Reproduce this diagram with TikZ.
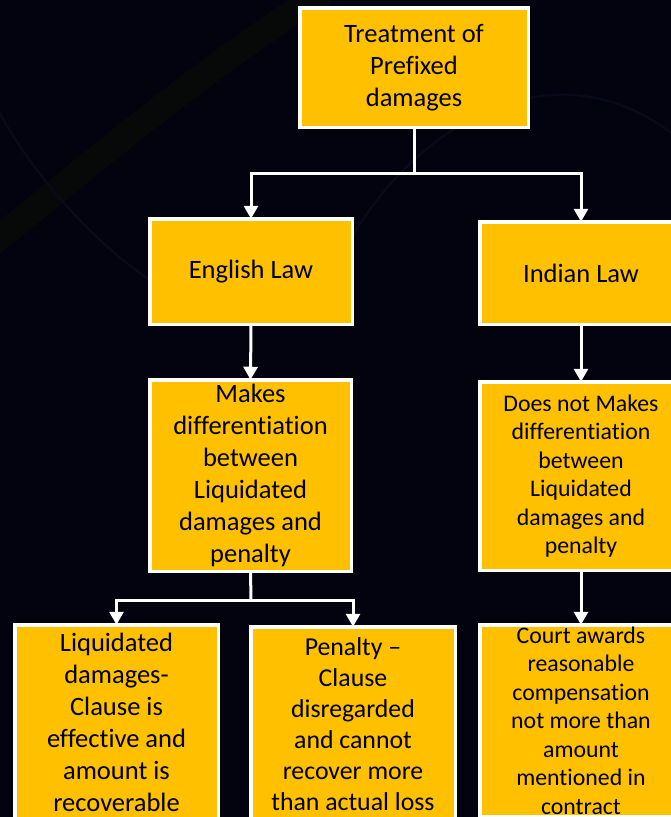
\documentclass[tikz,border=0pt]{standalone}
\usepackage{fontspec}
\setmainfont{Carlito}[Ligatures={TeX,NoCommon}]
\usetikzlibrary{arrows.meta,calc}

\definecolor{bgnavy}{RGB}{3,3,15}
\definecolor{boxgold}{RGB}{255,192,0}
\definecolor{bandolive}{RGB}{7,8,8}
\definecolor{arcblue}{RGB}{9,11,28}

\begin{document}
\begin{tikzpicture}[x=1pt,y=-1pt,
  box/.style={draw=white,line width=3.5pt,fill=boxgold,text=black,
    align=center,inner sep=0pt,outer sep=0pt},
  bigtext/.style={font=\fontsize{26.5}{32}\selectfont},
  smalltext/.style={font=\fontsize{23.8}{28.5}\selectfont},
  link/.style={draw=white,line width=3pt,-{Triangle[width=14pt,length=13pt]}},
  plain/.style={draw=white,line width=3pt}]

% page and backdrop
\useasboundingbox (0,0) rectangle (671,817);
\clip (0,0) rectangle (671,817);
\fill[bgnavy] (0,0) rectangle (671,817);
\draw[bandolive,line width=26pt] (-10,245) .. controls (90,165) and (200,70) .. (325,-8);
\draw[arcblue,line width=2pt] (-2,110) .. controls (30,170) and (90,240) .. (150,280);
\draw[arcblue,line width=2pt] (350,240) .. controls (420,120) and (560,40) .. (680,140);

% boxes
\node[box,bigtext,minimum width=228.5pt,minimum height=119.5pt] (top) at (414,67.5)
  {Treatment of\\Prefixed\\damages};
\node[box,bigtext,minimum width=202.5pt,minimum height=105.5pt] (eng) at (251,271.5)
  {English Law};
\node[box,bigtext,minimum width=202.5pt,minimum height=102.5pt] (ind) at (581,273)
  {Indian Law};
\node[box,bigtext,minimum width=201.5pt,minimum height=191.5pt] (mk) at (250.5,475.5)
  {Makes\\differentiation\\between\\Liquidated\\damages and\\penalty};
\node[box,smalltext,minimum width=202.5pt,minimum height=188.5pt] (nmk) at (581,476)
  {Does not Makes\\differentiation\\between\\Liquidated\\damages and\\penalty};
\node[box,bigtext,minimum width=203.5pt,minimum height=194.5pt] (liq) at (116.5,722)
  {Liquidated\\damages-\\Clause is\\effective and\\amount is\\recoverable};
\node[box,font=\fontsize{25.8}{31}\selectfont,minimum width=204.5pt,minimum height=195.5pt] (pen) at (353,724.5)
  {Penalty –\\Clause\\disregarded\\and cannot\\recover more\\than actual loss};
\node[box,smalltext,minimum width=202.5pt,minimum height=191.5pt] (crt) at (581,720.5)
  {Court awards\\reasonable\\compensation\\not more than\\amount\\mentioned in\\contract};

% junction points
\coordinate (j1) at (414,173);
\coordinate (j2) at (251,600);

% connectors
\draw[plain] (top.south) -- (j1);
\draw[link] (j1) -| (eng.north);
\draw[link] (j1) -| (ind.north);
\draw[link] (eng.south) -- (mk.north);
\draw[link] (ind.south) -- (nmk.north);
\draw[plain] (mk.south) -- (j2);
\draw[link] (j2) -| (liq.north);
\draw[link] (j2) -| (pen.north);
\draw[link] (nmk.south) -- (crt.north);
\end{tikzpicture}
\end{document}
